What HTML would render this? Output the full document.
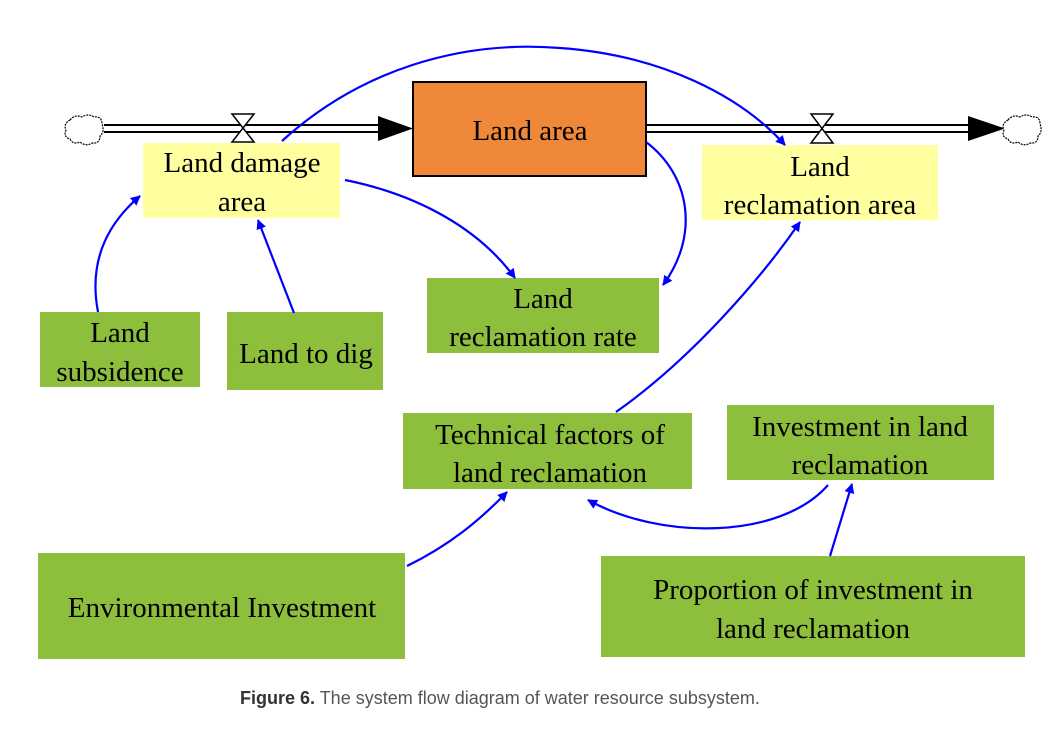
<!DOCTYPE html>
<html><head><meta charset="utf-8"><style>
html,body{margin:0;padding:0;background:#fff;width:1062px;height:747px;overflow:hidden}
svg text{font-family:"Liberation Serif",serif;font-size:29px;fill:#000}
.cap{position:absolute;left:240px;top:688px;font-family:"Liberation Sans",sans-serif;font-size:18px;color:#555}
</style></head><body>
<svg width="1062" height="747" viewBox="0 0 1062 747" style="position:absolute;left:0;top:0">
<defs>
<marker id="b" markerWidth="10" markerHeight="10" refX="9" refY="5" orient="auto" markerUnits="userSpaceOnUse" viewBox="0 0 10 10"><path d="M0,0 L10,5 L0,10 z" fill="#0000ff"/></marker>
</defs>
<g fill="none">
<!-- pipes -->
<line x1="104" y1="125" x2="385" y2="125" stroke="#000" stroke-width="2"/>
<line x1="104" y1="132" x2="385" y2="132" stroke="#000" stroke-width="2"/>
<path d="M378,116 L413,128.5 L378,141 z" fill="#000"/>
<line x1="646" y1="125" x2="975" y2="125" stroke="#000" stroke-width="2"/>
<line x1="646" y1="132" x2="975" y2="132" stroke="#000" stroke-width="2"/>
<path d="M968,116 L1005,128.5 L968,141 z" fill="#000"/>
<!-- valves -->
<path d="M232,114 L254,114 L232,142 L254,142 z" stroke="#000" stroke-width="1.5" fill="#fff"/>
<path d="M811,114 L833,114 L811,143 L833,143 z" stroke="#000" stroke-width="1.5" fill="#fff"/>
<!-- clouds -->
<path d="M70,120 q5,-6 12,-3 q6,-4 12,0 q8,-1 8,7 q3,8 -2,12 q0,8 -8,7 q-6,4 -12,-1 q-7,3 -10,-3 q-7,-2 -4,-9 q-3,-6 4,-10z" stroke="#000" stroke-width="1.2" stroke-dasharray="2,1" fill="#fff"/>
<path d="M1008,120 q5,-6 12,-3 q6,-4 12,0 q8,-1 8,7 q3,8 -2,12 q0,8 -8,7 q-6,4 -12,-1 q-7,3 -10,-3 q-7,-2 -4,-9 q-3,-6 4,-10z" stroke="#000" stroke-width="1.2" stroke-dasharray="2,1" fill="#fff"/>
</g>
<!-- boxes -->
<rect x="413" y="82" width="233" height="94" fill="#F0883A" stroke="#000" stroke-width="2"/>
<rect x="143" y="143" width="197" height="75" fill="#FFFFA0"/>
<rect x="702" y="145" width="236" height="75" fill="#FFFFA0"/>
<g fill="#8DBE3C">
<rect x="40" y="312" width="160" height="75"/>
<rect x="227" y="312" width="156" height="78"/>
<rect x="427" y="278" width="232" height="75"/>
<rect x="403" y="413" width="289" height="76"/>
<rect x="727" y="405" width="267" height="75"/>
<rect x="38" y="553" width="367" height="106"/>
<rect x="601" y="556" width="424" height="101"/>
</g>
<!-- text -->
<text x="530" y="140" text-anchor="middle" font-size="30">Land area</text>
<text x="242" y="172" text-anchor="middle">Land damage</text>
<text x="242" y="211" text-anchor="middle">area</text>
<text x="820" y="176" text-anchor="middle">Land</text>
<text x="820" y="214" text-anchor="middle">reclamation area</text>
<text x="120" y="342" text-anchor="middle">Land</text>
<text x="120" y="381" text-anchor="middle">subsidence</text>
<text x="306" y="363" text-anchor="middle">Land to dig</text>
<text x="543" y="308" text-anchor="middle">Land</text>
<text x="543" y="346" text-anchor="middle">reclamation rate</text>
<text x="550" y="444" text-anchor="middle">Technical factors of</text>
<text x="550" y="482" text-anchor="middle">land reclamation</text>
<text x="860" y="436" text-anchor="middle">Investment in land</text>
<text x="860" y="474" text-anchor="middle">reclamation</text>
<text x="222" y="617" text-anchor="middle">Environmental Investment</text>
<text x="813" y="599" text-anchor="middle">Proportion of investment in</text>
<text x="813" y="638" text-anchor="middle">land reclamation</text>
<!-- links -->
<g fill="none" stroke="#0000ff" stroke-width="2.2" marker-end="url(#b)">
<path d="M282,141 C360,70 460,40 560,48 C660,55 740,95 785,145"/>
<path d="M345,180 C420,195 480,230 515,278"/>
<path d="M646,142 C690,175 700,235 663,285"/>
<path d="M98,312 C90,270 100,230 140,196"/>
<path d="M294,313 L258,220"/>
<path d="M616,412 C690,360 760,280 800,222"/>
<path d="M407,566 C450,545 480,520 507,492"/>
<path d="M828,485 C780,540 660,540 588,500"/>
<path d="M830,556 L852,484"/>
</g>
</svg>
<div class="cap"><b style="color:#333">Figure 6.</b> The system flow diagram of water resource subsystem.</div>
</body></html>
